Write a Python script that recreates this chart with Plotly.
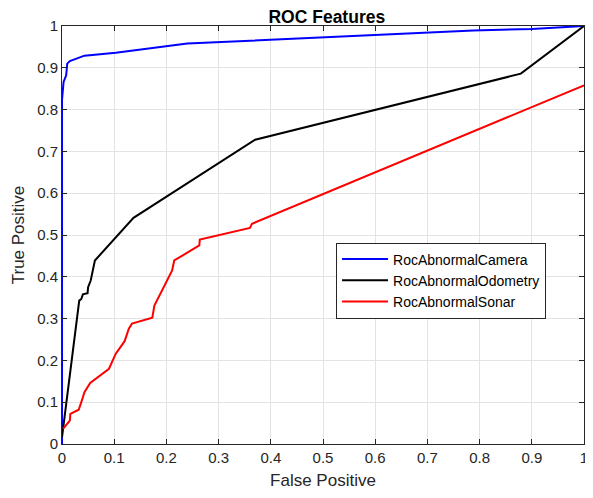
import plotly.graph_objects as go

# Data
camera_fp = [0.0, 0.0, 0.003, 0.008, 0.010, 0.015, 0.043, 0.103, 0.240, 0.500, 0.788, 0.900, 1.0]
camera_tp = [0.0, 0.823, 0.866, 0.882, 0.910, 0.916, 0.929, 0.936, 0.958, 0.972, 0.989, 0.993, 1.0]

odometry_fp = [0.0, 0.033, 0.037, 0.040, 0.049, 0.050, 0.055, 0.063, 0.137, 0.370, 0.879, 1.0]
odometry_tp = [0.016, 0.343, 0.347, 0.358, 0.361, 0.375, 0.391, 0.439, 0.541, 0.728, 0.886, 1.0]

sonar_fp = [0.002, 0.015, 0.016, 0.032, 0.037, 0.043, 0.054, 0.090, 0.103, 0.120, 0.128, 0.134,
            0.173, 0.177, 0.211, 0.215, 0.263, 0.264, 0.360, 0.364, 1.0]
sonar_tp = [0.036, 0.056, 0.072, 0.082, 0.100, 0.124, 0.146, 0.180, 0.216, 0.246, 0.276, 0.288,
            0.302, 0.331, 0.415, 0.439, 0.475, 0.489, 0.517, 0.527, 0.858]

tick_vals = [0, 0.1, 0.2, 0.3, 0.4, 0.5, 0.6, 0.7, 0.8, 0.9, 1]
tick_text = ["0", "0.1", "0.2", "0.3", "0.4", "0.5", "0.6", "0.7", "0.8", "0.9", "1"]

series = [
    ("RocAbnormalCamera", camera_fp, camera_tp, "#0000ff"),
    ("RocAbnormalOdometry", odometry_fp, odometry_tp, "#000000"),
    ("RocAbnormalSonar", sonar_fp, sonar_tp, "#ff0000"),
]

FONT = "Liberation Sans, Arial, Helvetica, sans-serif"

# The page body has an 8px default margin, so the figure is sized to fit inside it.
W, H = 585, 482

fig = go.Figure()
for name, xs, ys, col in series:
    fig.add_trace(go.Scatter(x=xs, y=ys, mode="lines", name=name,
                             line=dict(color=col, width=2), cliponaxis=False))

axis_common = dict(
    range=[0, 1], tickvals=tick_vals, ticktext=tick_text, automargin=False,
    showgrid=True, gridcolor="#e3e3e3", gridwidth=1,
    showline=True, linecolor="#262626", linewidth=1, mirror="ticks",
    ticks="inside", ticklen=5, tickcolor="#262626",
    zeroline=False, tickfont=dict(size=15, color="#262626", family=FONT),
)

fig.update_layout(
    width=W, height=H,
    margin=dict(l=54, r=9, t=18, b=46, pad=0, autoexpand=False),
    paper_bgcolor="white", plot_bgcolor="white",
    font=dict(family=FONT, color="#262626"),
    title=dict(text="<b>ROC Features</b>", x=0.545, xref="container", xanchor="center",
               y=1 - 9 / H, yanchor="middle", font=dict(size=17.5, color="#000000"),
               automargin=False),
    xaxis=dict(axis_common, title=dict(text="False Positive", font=dict(size=17), standoff=12)),
    yaxis=dict(axis_common, title=dict(text="True Positive", font=dict(size=17), standoff=8)),
    legend=dict(x=0.525, y=0.482, xanchor="left", yanchor="top",
                bgcolor="white", bordercolor="#262626", borderwidth=1,
                font=dict(size=14, color="#000000", family=FONT),
                itemwidth=46, tracegroupgap=0),
    showlegend=True,
)

fig.write_html("out.html")
